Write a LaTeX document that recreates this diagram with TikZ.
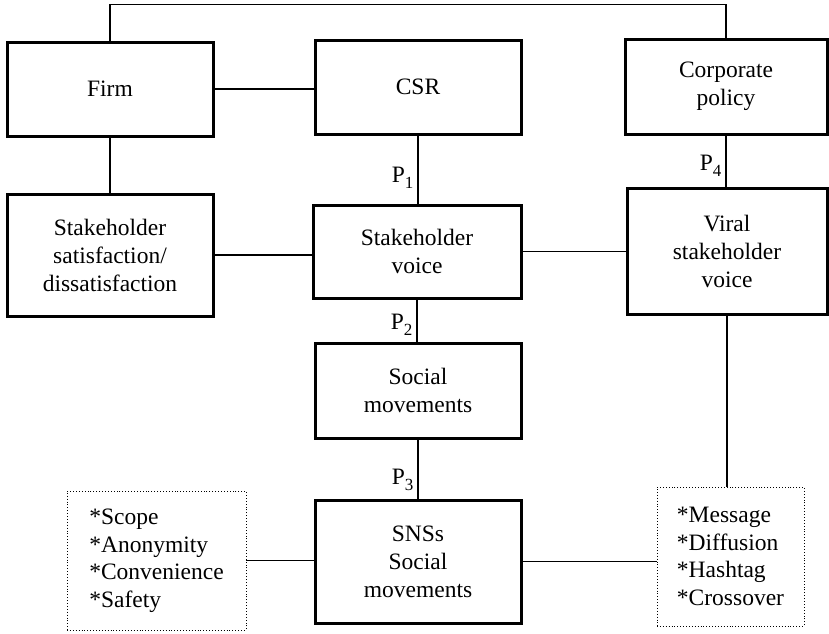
\documentclass[tikz,border=0pt]{standalone}
\usepackage{fontspec}
\setmainfont{Liberation Serif}
\usepackage{tikz}
\usetikzlibrary{calc}

\newcommand{\psub}[1]{P\raisebox{-6pt}{\fontsize{17}{17}\selectfont #1}}

\begin{document}
\begin{tikzpicture}[x=1pt, y=-1pt]

        % 1. Page frame (one unit = one pixel of the reference)
        \useasboundingbox (0,0) rectangle (829,633);
        \pgfmathsetmacro{\colw}{206} % Width of the main boxes

        \tikzset{
            box/.style={draw, line width=3pt, align=center, inner sep=2pt,
                        font=\fontsize{23.5}{28}\selectfont},
            listbox/.style={draw, dotted, line width=0.9pt, align=left, inner sep=2pt,
                        font=\fontsize{23.5}{27.5}\selectfont},
            link/.style={line width=1.2pt},
            plabel/.style={font=\fontsize{23.5}{28}\selectfont, inner sep=4pt}
        }

        % 2. Top row
        \node[box, minimum width=\colw, minimum height=94] (firm) at (110,89) {Firm};
        \node[box, minimum width=\colw, minimum height=94] (csr) at (418,87) {CSR};
        \node[box, minimum width=202, minimum height=95] (policy) at (726,86.5) {Corporate\\policy};

        % 3. Middle row
        \node[box, minimum width=\colw, minimum height=122] (satis) at (110,255)
            {Stakeholder\\satisfaction/\\dissatisfaction};
        \node[box, minimum width=208, minimum height=93] (voice) at (417,251.5)
            {Stakeholder\\voice};
        \node[box, minimum width=200, minimum height=126] (viral) at (727,251)
            {Viral\\stakeholder\\voice};

        % 4. Lower column
        \node[box, minimum width=\colw, minimum height=95] (social) at (418,390.5)
            {Social\\movements};
        \node[box, minimum width=\colw, minimum height=123] (sns) at (418,561.5)
            {SNSs\\Social\\movements};

        % 5. Dotted lists
        \node[listbox, minimum width=179, minimum height=139] (scope) at (156.5,560.5)
            {*Scope\\*Anonymity\\*Convenience\\*Safety};
        \node[listbox, minimum width=147, minimum height=139] (message) at (730.5,556.5)
            {*Message\\*Diffusion\\*Hashtag\\*Crossover};

        % 6. Connectors
        \draw[link] (firm.north) -- ++(0,-36) -| (policy.north);
        \draw[link] (firm.east) -- (firm.east -| csr.west);
        \draw[link] (firm.south) -- (satis.north);
        \draw[link] (satis.east) -- (satis.east -| voice.west);
        \draw[link] (voice.east) -- (voice.east -| viral.west);
        \draw[link] (csr.south) -- node[plabel, pos=0.62, left] {\psub{1}} (csr.south |- voice.north);
        \draw[link] (voice.south) -- node[plabel, pos=0.6, left] {\psub{2}} (voice.south |- social.north);
        \draw[link] (social.south) -- node[plabel, pos=0.68, left] {\psub{3}} (social.south |- sns.north);
        \draw[link] (policy.south) -- node[plabel, pos=0.6, left] {\psub{4}} (policy.south |- viral.north);
        \draw[link] (viral.south) -- (viral.south |- message.north);
        \draw[link] (scope.east) -- (scope.east -| sns.west);
        \draw[link] (sns.east) -- (sns.east -| message.west);

\end{tikzpicture}
\end{document}
